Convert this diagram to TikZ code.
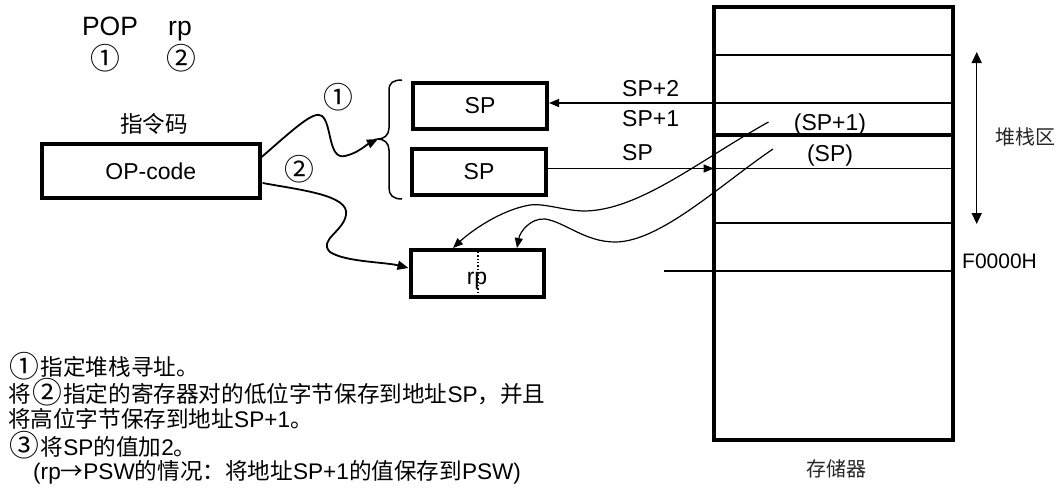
\documentclass[tikz,border=0pt]{standalone}
\usepackage{fontspec}
\setmainfont{Liberation Sans}
\newfontfamily\cjk{Noto Sans CJK SC}
\usetikzlibrary{arrows.meta,calc}
\newcommand\cnum[1]{\kern0.06em\raisebox{-0.07em}{\scalebox{1.32}{#1}}\kern0.06em}
\begin{document}
\begin{tikzpicture}[x=1pt,y=-1pt,
  box/.style={draw,line width=4pt,rectangle,inner sep=0pt,font=\fontsize{23}{27}\selectfont},
  lat/.style={font=\fontsize{23}{27}\selectfont,inner sep=0pt},
  big/.style={font=\fontsize{26.5}{30}\selectfont,inner sep=0pt},
  cj/.style={font=\cjk\fontsize{22.6}{27}\selectfont,inner sep=0pt},
  cjs/.style={font=\cjk\fontsize{20}{24}\selectfont,inner sep=0pt,text=black!85},
  conn/.style={line width=1.8pt,-{Triangle[length=11pt,width=9pt]}},
  thinarr/.style={line width=1.2pt,-{Triangle[length=10pt,width=8pt]}},
  mline/.style={line width=1.8pt},
]
\useasboundingbox (0,0) rectangle (1060,496);

% instruction
\node[big,anchor=base] (pop) at (110,35) {POP};
\node[big,anchor=base] (rpins) at (180,35) {rp};
\node[cj] (c1) at (105.5,58.5) {\cnum{①}};
\node[cj] (c2) at (181,58) {\cnum{②}};

% opcode
\node[cj] (zlm) at (154,124) {指令码};
\node[box,minimum width=217.7pt,minimum height=53.4pt] (op) at (150.8,171) {OP-code};

% SP boxes and rp
\node[box,minimum width=134pt,minimum height=46pt] (sp1) at (480,106) {SP};
\node[box,minimum width=134pt,minimum height=46pt] (sp2) at (479,172) {SP};
\node[box,minimum width=133pt,minimum height=47pt,text height=21pt,text depth=0pt] (rp) at (477,273.5) {rp};
\draw[dotted,line width=1.3pt] ($(rp.north)+(1,4)$) -- ($(rp.south)+(1,-7)$);

% brace
\coordinate (btip) at (378,139);
\draw[line width=1.5pt] (402,80) .. controls (393,80) and (389,83) .. (389,90) -- (389,128)
  .. controls (389,135) and (384,139) .. (btip)
  .. controls (384,139) and (389,143) .. (389,150) -- (389,188)
  .. controls (389,195) and (393,199) .. (402,199);

% memory
\node[draw,line width=4pt,minimum width=239.6pt,minimum height=433pt,inner sep=0pt] (mem) at (833.5,223.5) {};
\draw[mline] (713.7,55) -- (953.3,55);
\draw[mline] (678,103) -- (953.3,103);
\draw[line width=3.5pt] (713.7,135) -- (953.3,135);
\draw[mline] (677,168.5) -- (953.3,168.5);
\draw[mline] (713.7,222.7) -- (953.3,222.7);
\draw[mline] (664,270.7) -- (953.3,270.7);

% memory labels
\node[lat,anchor=base west] (tsp2) at (622,96.7) {SP+2};
\node[lat,anchor=base west] (tsp1) at (622,126.7) {SP+1};
\node[lat,anchor=base west] (tsp0) at (622,160) {SP};
\node[lat,anchor=base] (csp1) at (830,130) {(SP+1)};
\node[lat,anchor=base] (csp0) at (830,161.7) {(SP)};
\node[font=\fontsize{21}{25}\selectfont,inner sep=0pt,anchor=base west] (f0) at (962,268) {F0000H};
\node[cjs] (stk) at (1025,137) {堆栈区};
\node[cjs] (meml) at (836,469) {存储器};

% stack extent arrow
\coordinate (st) at (976.7,52);
\coordinate (sb) at (976.7,224);
\draw[line width=1.5pt,{Triangle[length=11pt,width=10pt]}-{Triangle[length=11pt,width=10pt]}] (st) -- (sb);

% arrows between SP boxes and memory
\coordinate (m2) at (713.7,103);
\draw[thinarr] (m2) -- (sp1.east |- m2);
\coordinate (m0) at (713.7,168.5);
\draw[thinarr] (sp2.east |- m0) -- (m0);

% opcode connectors
\node[cj] (l1) at (338,97) {\cnum{①}};
\node[cj] (l2) at (299,169) {\cnum{②}};
\draw[conn] ($(op.east)+(0,-14)$) .. controls (295,128) and (314,110) .. (322,116)
  .. controls (332,124) and (328,160) .. (345,156)
  .. controls (358,153) and (366,145) .. (btip);
\draw[conn] ($(op.east)+(1,12)$) .. controls (300,190) and (350,195) .. (346,215)
  .. controls (343,232) and (318,240) .. (330,252)
  .. controls (345,262) and (385,262) .. (rp.west |- 0,268);

% memory to rp
\coordinate (a0) at (768.5,122);
\coordinate (b0) at (773,149);
\draw[thinarr] (a0) .. controls (700,160) and (640,210) .. (585,211)
  .. controls (565,211) and (545,203) .. (530,205)
  .. controls (500,210) and (470,232) .. (rp.north -| 453,0);
\draw[thinarr] (b0) .. controls (720,185) and (660,242) .. (615,242)
  .. controls (585,242) and (565,222) .. (545,219)
  .. controls (530,218) and (520,232) .. (rp.north -| 517,0);

% explanation
\node[cj,anchor=west] (t1) at (8,366) {\cnum{①}指定堆栈寻址。};
\node[cj,anchor=west] (t2) at (8,392.5) {将\cnum{②}指定的寄存器对的低位字节保存到地址\textrm{SP}，并且};
\node[cj,anchor=west] (t3) at (8,419) {将高位字节保存到地址\textrm{SP+1}。};
\node[cj,anchor=west] (t4) at (8,445.5) {\cnum{③}将\textrm{SP}的值加\textrm{2}。};
\node[cj,anchor=west] (t5) at (33,472) {\textrm{(rp}→\textrm{PSW}的情况：将地址\textrm{SP+1}的值保存到\textrm{PSW)}};
\end{tikzpicture}
\end{document}
